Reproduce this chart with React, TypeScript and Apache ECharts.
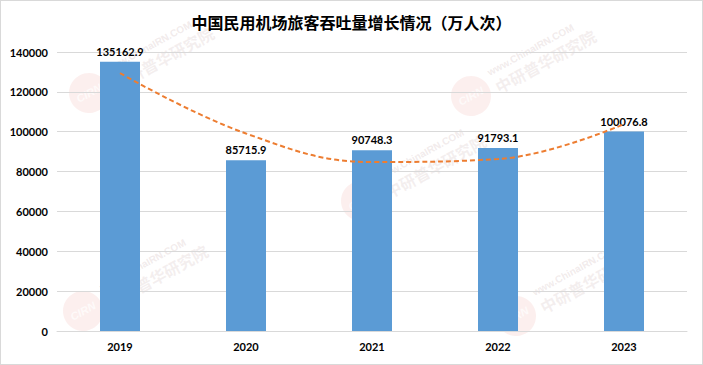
import React, { useEffect, useRef } from "react";
import * as echarts from "echarts";

const title = "中国民用机场旅客吞吐量增长情况（万人次）";
const categories = ["2019", "2020", "2021", "2022", "2023"];
const passengers = [135162.9, 85715.9, 90748.3, 91793.1, 100076.8];
// polynomial trend line values at each year
const trend = [129400, 99100, 84800, 86300, 103800];
const yTicks = [0, 20000, 40000, 60000, 80000, 100000, 120000, 140000];

const watermarks = [
  { x: 88, y: 92 },
  { x: 82, y: 310 },
  { x: 360, y: 200 },
  { x: 515, y: 315 },
  { x: 470, y: 95 },
];

export default function App() {
  const ref = useRef<HTMLDivElement>(null);
  useEffect(() => {
    if (!ref.current) return;
    const chart = echarts.init(ref.current, null, { renderer: "svg" });
    const font = "Lato, 'Liberation Sans', sans-serif";
    const wmGraphics: any[] = watermarks.map((w) => ({
      type: "group",
      x: w.x,
      y: w.y,
      rotation: 0.5,
      z: 0,
      silent: true,
      children: [
        {
          type: "circle",
          shape: { cx: 0, cy: 0, r: 20 },
          style: { fill: "rgba(235,130,120,0.13)" },
        },
        {
          type: "text",
          x: 0,
          y: 0,
          style: {
            text: "CIRN",
            fill: "rgba(255,255,255,0.7)",
            font: "bold italic 11px 'Liberation Sans'",
            align: "center",
            verticalAlign: "middle",
          },
        },
        {
          type: "text",
          x: 26,
          y: -12,
          style: {
            text: "www.ChinaIRN.COM",
            fill: "rgba(210,190,190,0.3)",
            font: "bold 10px 'Liberation Sans'",
            verticalAlign: "middle",
          },
        },
        {
          type: "text",
          x: 26,
          y: 5,
          style: {
            text: "中研普华研究院",
            fill: "rgba(210,190,190,0.25)",
            font: "bold 16px 'Noto Sans CJK SC'",
            verticalAlign: "middle",
          },
        },
      ],
    }));

    chart.setOption({
      animation: false,
      backgroundColor: "#ffffff",
      title: {
        text: title,
        left: "center",
        top: 8,
        textStyle: {
          fontFamily: "'Noto Sans CJK SC', sans-serif",
          fontSize: 16,
          fontWeight: "bold",
          color: "#000000",
        },
      },
      graphic: wmGraphics,
      grid: { left: 56, right: 15, top: 51, bottom: 33, containLabel: false },
      xAxis: {
        type: "category",
        data: categories,
        axisLine: { show: true, lineStyle: { color: "#d9d9d9" } },
        axisTick: { show: false },
        axisLabel: {
          color: "#000",
          fontFamily: font,
          fontWeight: "bold",
          fontSize: 11,
          margin: 10,
        },
      },
      yAxis: {
        type: "value",
        min: 0,
        max: 140000,
        interval: 20000,
        axisLine: { show: false },
        axisTick: { show: false },
        splitLine: { lineStyle: { color: "#d9d9d9", width: 1 } },
        axisLabel: {
          color: "#000",
          fontFamily: font,
          fontWeight: "bold",
          fontSize: 11,
          margin: 9,
          formatter: (v: number) => (yTicks.includes(v) ? String(v) : ""),
        },
      },
      series: [
        {
          type: "bar",
          data: passengers,
          barWidth: 40,
          z: 2,
          itemStyle: { color: "#5B9BD5" },
          label: {
            show: true,
            position: "top",
            distance: 5,
            color: "#000",
            fontFamily: font,
            fontWeight: "bold",
            fontSize: 11,
            formatter: (p: any) => p.value.toFixed(1),
          },
        },
        {
          type: "line",
          data: trend,
          smooth: 0.4,
          symbol: "none",
          z: 3,
          lineStyle: { color: "#ED7D31", width: 2, type: [5, 3] },
        },
      ],
    });
    return () => chart.dispose();
  }, []);
  return (
    <div
      style={{
        position: "fixed",
        left: 0,
        top: 0,
        width: 703,
        height: 365,
        boxSizing: "border-box",
        border: "1px solid #d9d9d9",
        background: "#fff",
      }}
    >
      <div ref={ref} style={{ width: 701, height: 363 }} />
    </div>
  );
}
